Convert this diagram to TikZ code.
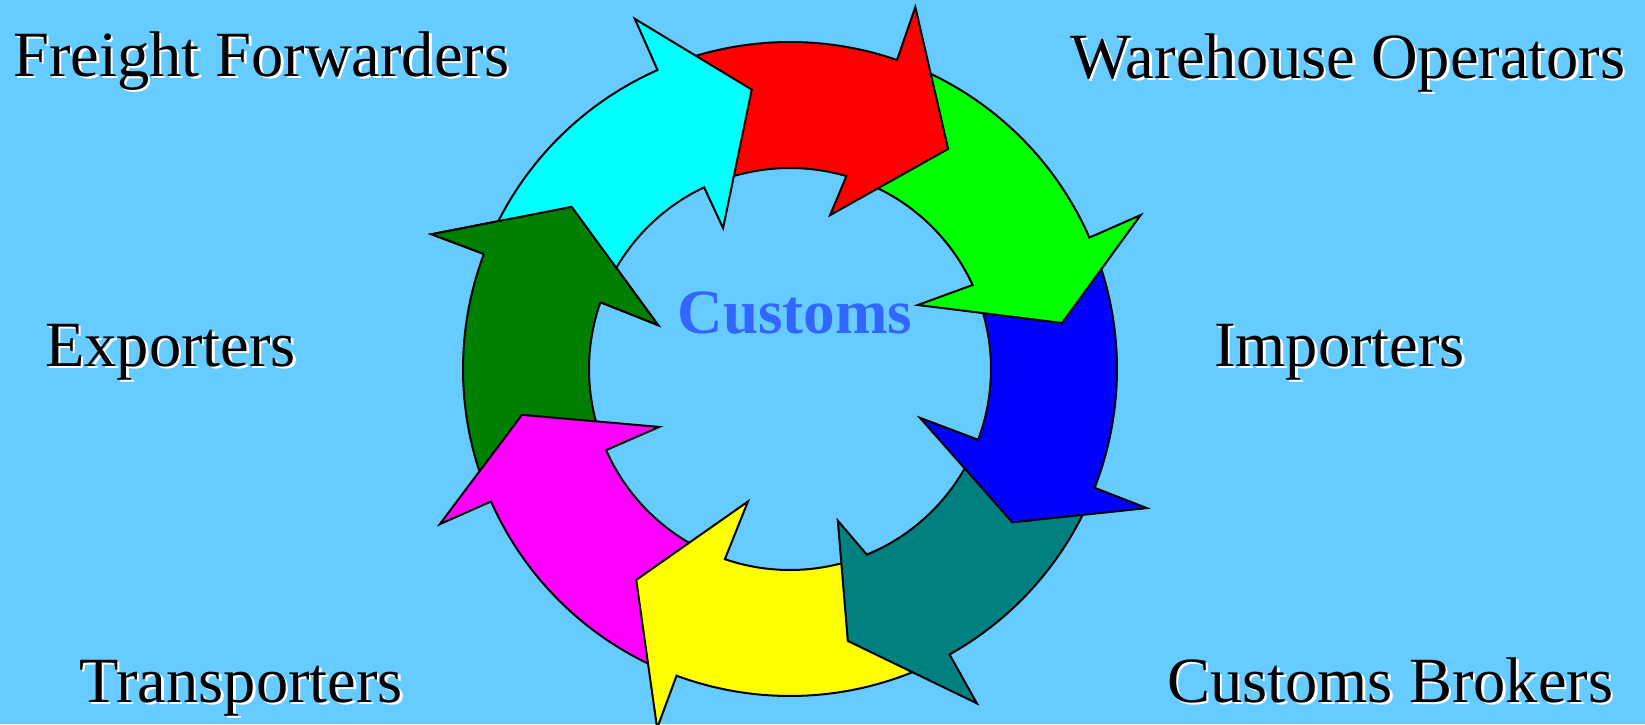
\documentclass[tikz,border=0pt]{standalone}
\usepackage{fontspec}
\setmainfont{Liberation Serif}
\usepackage{tikz}

\definecolor{sky}{HTML}{66CCFF}
\definecolor{custblue}{HTML}{3366FF}
\definecolor{ringcyan}{rgb}{0,1,1}
\definecolor{ringred}{rgb}{1,0,0}
\definecolor{ringlime}{rgb}{0,1,0}
\definecolor{ringblue}{rgb}{0,0,1}
\definecolor{ringteal}{rgb}{0,0.5,0.5}
\definecolor{ringyellow}{rgb}{1,1,0}
\definecolor{ringmagenta}{rgb}{1,0,1}
\definecolor{ringgreen}{rgb}{0,0.5,0}

% text with a white shadow down to the right
\newcommand{\shtext}[1]{\rlap{\kern2.5pt\raisebox{-2.5pt}{\color{white}#1}}#1}

% one piece of the ring:
% #1 colour, #2 tail angle, #3 outer base, #4 inner base,
% #5/#6 inner barb angle/radius, #7/#8 tip angle/radius
\newcommand{\ringarrow}[8]{%
  \filldraw[arrowpiece,fill=#1] (#2:327) arc[start angle=#2,end angle=#3,radius=327]
    -- (#3:383) -- (#7:#8) -- (#5:#6) -- (#4:201)
    arc[start angle=#4,end angle=#2,radius=201] -- cycle;}

\begin{document}
\begin{tikzpicture}[x=1pt,y=1pt,
        arrowpiece/.style={draw=black,line width=2pt},
        player/.style={inner sep=0pt,anchor=base west,
          font=\fontsize{64.5}{72}\selectfont},
        hub/.style={inner sep=0pt,anchor=base,text=custblue,
          font=\fontsize{63}{70}\selectfont\bfseries}]

  \useasboundingbox (-790,-355) rectangle (855,369);
  \fill[sky] (-790,-355) rectangle (855,369);

  % the ring, each head lies over the next tail
  \ringarrow{ringgreen}{200.9}{159.4}{160.6}{161.6}{139}{143.4}{272}
  \ringarrow{ringmagenta}{-113.3}{-156.1}{-156.2}{-156.1}{143}{-170.3}{272}
  \ringarrow{ringyellow}{-63.8}{-110.3}{-108.9}{-107.6}{139}{-126.1}{261}
  \ringarrow{ringteal}{-24.3}{-60.8}{-67.5}{-72.5}{159}{-78}{278}
  \ringarrow{ringblue}{20.7}{-21.3}{-20.6}{-20.6}{139}{-34.6}{270}
  \ringarrow{ringlime}{68}{23.7}{24.7}{26.6}{143}{9.6}{276}
  \ringarrow{ringred}{110.9}{70.9}{73.7}{75.4}{159}{54.3}{271}
  \ringarrow{ringcyan}{156.4}{113.9}{115.3}{115.4}{156}{97.8}{282}
  \fill[ringgreen] (159.4:327) -- (159.4:383) -- (143.4:272) -- (161.6:139) -- (160.6:201) -- cycle;
  \draw[arrowpiece] (159.4:327) -- (159.4:383) -- (143.4:272) -- (161.6:139) -- (160.6:201);

  \node[hub] (customs) at (5,36) {Customs};

  \node[player] (freight) at (-777,293) {\shtext{Freight Forwarders}};
  \node[player] (warehouse) at (280,291) {\shtext{Warehouse Operators}};
  \node[player] (exporters) at (-745,3) {\shtext{Exporters}};
  \node[player] (importers) at (424,3) {\shtext{Importers}};
  \node[player] (transporters) at (-711,-333) {\shtext{Transporters}};
  \node[player] (brokers) at (377,-333) {\shtext{Customs Brokers}};

\end{tikzpicture}
\end{document}
